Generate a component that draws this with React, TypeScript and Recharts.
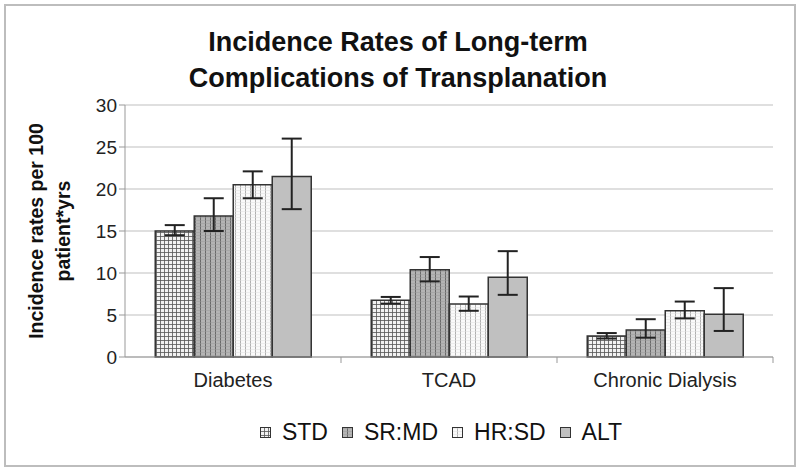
import React from 'react';
import { BarChart, Bar, XAxis, YAxis, CartesianGrid, ErrorBar, Legend, Label } from 'recharts';

const categories = ['Diabetes', 'TCAD', 'Chronic Dialysis'];
const seriesNames = ['STD', 'SR:MD', 'HR:SD', 'ALT'];

// values and [minus, plus] error ranges, read per series across categories
const stdValues = [15.0, 6.75, 2.5];
const stdErr = [[0.5, 0.7], [0.4, 0.4], [0.3, 0.35]];
const srmdValues = [16.8, 10.4, 3.2];
const srmdErr = [[1.8, 2.1], [1.4, 1.5], [0.9, 1.3]];
const hrsdValues = [20.5, 6.3, 5.5];
const hrsdErr = [[1.6, 1.6], [0.8, 0.9], [0.9, 1.1]];
const altValues = [21.5, 9.5, 5.1];
const altErr = [[3.9, 4.5], [2.1, 3.1], [2.0, 3.1]];

const yTicks = [0, 5, 10, 15, 20, 25, 30];

const data = categories.map((name, i) => ({
  name,
  STD: stdValues[i],
  STDe: stdErr[i],
  SRMD: srmdValues[i],
  SRMDe: srmdErr[i],
  HRSD: hrsdValues[i],
  HRSDe: hrsdErr[i],
  ALT: altValues[i],
  ALTe: altErr[i],
}));

const fills = ['url(#pStd)', 'url(#pSrmd)', 'url(#pHrsd)', '#c0c0c0'];
const font = '"Liberation Sans", Arial, sans-serif';

const XTick = (props: any) => {
  const { x, y, payload } = props;
  const half = payload.offset || 0;
  return (
    <g>
      <line x1={x + half} y1={y - 8} x2={x + half} y2={y - 2} stroke="#999" />
      <text x={x} y={y + 22} textAnchor="middle" fontSize={20} fill="#222" fontFamily={font}>
        {payload.value}
      </text>
    </g>
  );
};

const YLabel = (props: any) => {
  const { viewBox } = props;
  const cy = viewBox.y + viewBox.height / 2;
  return (
    <g fontFamily={font} fontWeight="bold" fontSize={19.5} fill="#111">
      <text x={0} y={0} textAnchor="middle" transform={`translate(43, ${cy}) rotate(-90)`}>
        Incidence rates per 100
      </text>
      <text x={0} y={0} textAnchor="middle" transform={`translate(70, ${cy}) rotate(-90)`}>
        patient*yrs
      </text>
    </g>
  );
};

const LegendContent = () => (
  <div style={{ display: 'flex', justifyContent: 'center', paddingLeft: 96, fontFamily: font, fontSize: 23, color: '#111' }}>
    {seriesNames.map((n, i) => (
      <div key={n} style={{ display: 'flex', alignItems: 'center', marginRight: 14 }}>
        <svg width={11} height={11} style={{ marginRight: 11 }}>
          <rect x={0.5} y={0.5} width={10} height={10} fill={fills[i]} stroke="#333" />
        </svg>
        <span>{n}</span>
      </div>
    ))}
  </div>
);

export default function App() {
  return (
    <div style={{ position: 'absolute', left: 0, top: 0, width: 800, height: 471, background: '#fff' }}>
      <div
        style={{
          position: 'absolute', left: 4, top: 4, width: 788, height: 459,
          border: '2px solid #bdbdbd',
        }}
      />
      <div
        style={{
          position: 'absolute', left: 0, top: 24, width: 796, textAlign: 'center',
          fontFamily: font, fontWeight: 'bold', fontSize: 27, lineHeight: '36px', color: '#111',
        }}
      >
        Incidence Rates of Long-term
        <br />
        Complications of Transplanation
      </div>
      <svg width={0} height={0} style={{ position: 'absolute' }}>
        <defs>
          <pattern id="pStd" width="4" height="4" patternUnits="userSpaceOnUse">
            <rect width="4" height="4" fill="#f2f2f2" />
            <path d="M0 0.5H4M0.5 0V4" stroke="#555" strokeWidth="0.8" />
          </pattern>
          <pattern id="pSrmd" width="5" height="3" patternUnits="userSpaceOnUse">
            <rect width="5" height="3" fill="#b4b4b4" />
            <path d="M0.5 0V3" stroke="#6a6a6a" strokeWidth="1" />
            <path d="M0 1.5H5" stroke="#9a9a9a" strokeWidth="0.5" />
          </pattern>
          <pattern id="pHrsd" width="5" height="3" patternUnits="userSpaceOnUse">
            <rect width="5" height="3" fill="#fafafa" />
            <path d="M0.5 0V3" stroke="#b0b0b0" strokeWidth="1" />
            <path d="M0 1.5H5" stroke="#e0e0e0" strokeWidth="0.5" />
          </pattern>
        </defs>
      </svg>
      <div style={{ position: 'absolute', left: 0, top: 0 }}>
        <BarChart
          width={800}
          height={471}
          data={data}
          margin={{ top: 105, right: 27, bottom: 57, left: 0 }}
          barCategoryGap="14%"
          barGap={0}
        >
          <CartesianGrid vertical={false} stroke="#d4d4d4" strokeWidth={1.5} />
          <XAxis
            dataKey="name"
            stroke="#999"
            tickLine={false}
            tick={<XTick />}
            interval={0}
            height={30}
          />
          <YAxis
            domain={[0, 30]}
            ticks={yTicks}
            stroke="#999"
            tickSize={6}
            tick={{ fontSize: 19, fill: '#222', fontFamily: font }}
            width={125}
          >
            <Label content={<YLabel />} />
          </YAxis>
          <Legend
            verticalAlign="bottom"
            content={<LegendContent />}
            wrapperStyle={{ left: 0, width: 800, top: 419 }}
          />
          <Bar dataKey="STD" name="STD" fill={fills[0]} stroke="#333" strokeWidth={1.5} isAnimationActive={false}>
            <ErrorBar dataKey="STDe" width={10} stroke="#222" strokeWidth={2} />
          </Bar>
          <Bar dataKey="SRMD" name="SR:MD" fill={fills[1]} stroke="#333" strokeWidth={1.5} isAnimationActive={false}>
            <ErrorBar dataKey="SRMDe" width={10} stroke="#222" strokeWidth={2} />
          </Bar>
          <Bar dataKey="HRSD" name="HR:SD" fill={fills[2]} stroke="#333" strokeWidth={1.5} isAnimationActive={false}>
            <ErrorBar dataKey="HRSDe" width={10} stroke="#222" strokeWidth={2} />
          </Bar>
          <Bar dataKey="ALT" name="ALT" fill={fills[3]} stroke="#333" strokeWidth={1.5} isAnimationActive={false}>
            <ErrorBar dataKey="ALTe" width={10} stroke="#222" strokeWidth={2} />
          </Bar>
        </BarChart>
      </div>
    </div>
  );
}
